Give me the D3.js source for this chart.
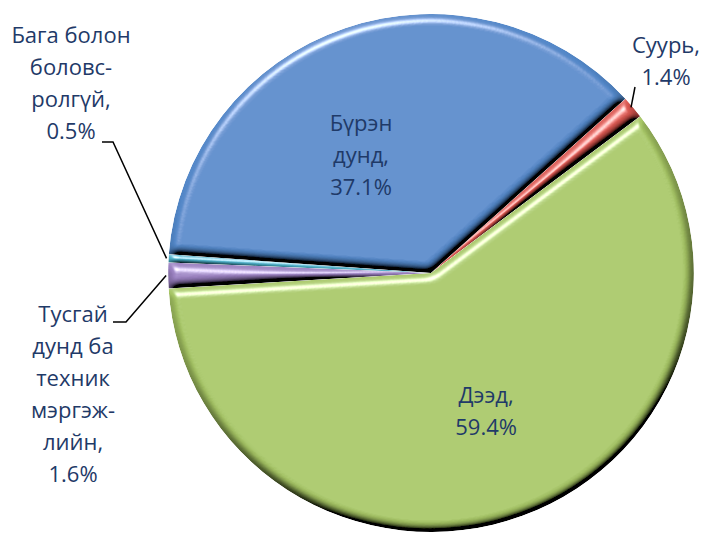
<!DOCTYPE html>
<html>
<head>
<meta charset="utf-8">
<script src="https://cdn.jsdelivr.net/npm/d3@7"></script>
<style>
  html, body { margin: 0; padding: 0; background: #fff; }
  text { font-family: "Open Sans", sans-serif; }
</style>
</head>
<body>
<div id="chart"></div>
<script>
// Data
const categories = ['Суурь', 'Дээд', 'Тусгай дунд ба техник мэргэжлийн', 'Бага болон боловсролгүй', 'Бүрэн дунд'];
const values = [1.4, 59.4, 1.6, 0.5, 37.1];
const labelLines = [
  ['Суурь,', '1.4%'],
  ['Дээд,', '59.4%'],
  ['Тусгай', 'дунд ба', 'техник', 'мэргэж-', 'лийн,', '1.6%'],
  ['Бага болон', 'боловс-', 'ролгүй,', '0.5%'],
  ['Бүрэн', 'дунд,', '37.1%']
];
const colors = ['#d9564f', '#a6c564', '#9a80c0', '#4bb0c8', '#5287c8'];

const width = 702;
const height = 533;
const cx = 431, cy = 273, radius = 259;
const stretchX = 1.015;
const startDeg = 47.7;
const lineH = 32;

// label layout: inside labels use centroid (plus a nudge), outside ones sit beside the pie
const outside = {
  0: { x: 666, y: 53, anchor: [635, 87] },
  2: { x: 73, y: 322, anchor: [113, 322], elbow: [126, 322] },
  3: { x: 71, y: 43, anchor: [102, 142], elbow: [113, 142] }
};
const nudge = { 1: [3, 0], 4: [-21, 22] };

const svg = d3.select('#chart')
  .append('svg')
  .attr('width', width)
  .attr('height', height);

const defs = svg.append('defs');
const f = defs.append('filter')
  .attr('id', 'bevel')
  .attr('x', '-10%').attr('y', '-10%')
  .attr('width', '120%').attr('height', '120%');
f.append('feGaussianBlur').attr('in', 'SourceAlpha').attr('stdDeviation', 4).attr('result', 'b');
f.append('feDiffuseLighting')
  .attr('in', 'b').attr('surfaceScale', 9).attr('diffuseConstant', 1.3)
  .attr('lighting-color', '#fff').attr('result', 'd')
  .append('feDistantLight').attr('azimuth', 250).attr('elevation', 50);
f.append('feComposite').attr('in', 'SourceGraphic').attr('in2', 'd')
  .attr('operator', 'arithmetic').attr('k1', 1).attr('k2', 0).attr('k3', 0).attr('k4', 0)
  .attr('result', 'lit');
f.append('feSpecularLighting')
  .attr('in', 'b').attr('surfaceScale', 9).attr('specularConstant', 1.0)
  .attr('specularExponent', 20).attr('lighting-color', '#fff').attr('result', 's')
  .append('feDistantLight').attr('azimuth', 250).attr('elevation', 30);
f.append('feComposite').attr('in', 's').attr('in2', 'SourceAlpha')
  .attr('operator', 'in').attr('result', 's2');
f.append('feComposite').attr('in', 'lit').attr('in2', 's2')
  .attr('operator', 'arithmetic').attr('k1', 0).attr('k2', 1).attr('k3', 0.8).attr('k4', 0)
  .attr('result', 'sum');
f.append('feComposite').attr('in', 'sum').attr('in2', 'SourceAlpha').attr('operator', 'in');

const pie = d3.pie()
  .sort(null)
  .value(d => d)
  .startAngle(startDeg * Math.PI / 180)
  .endAngle(startDeg * Math.PI / 180 + 2 * Math.PI);

const arcs = pie(values);

const arc = d3.arc().innerRadius(0).outerRadius(radius);
const edgeArc = d3.arc().innerRadius(radius).outerRadius(radius);
const labelArc = d3.arc().innerRadius(radius * 0.57).outerRadius(radius * 0.57);

const g = svg.append('g').attr('transform', `translate(${cx},${cy}) scale(${stretchX},1)`);

g.selectAll('path.slice')
  .data(arcs)
  .enter()
  .append('path')
  .attr('class', 'slice')
  .attr('d', arc)
  .attr('fill', (d, i) => colors[i])
  .attr('filter', 'url(#bevel)');

// leader lines
arcs.forEach((d, i) => {
  const o = outside[i];
  if (!o) return;
  const end = edgeArc.centroid(d);
  const pts = [o.anchor];
  if (o.elbow) pts.push(o.elbow);
  pts.push([end[0] * stretchX + cx - 2, end[1] + cy]);
  svg.append('path')
    .attr('d', d3.line()(pts))
    .attr('fill', 'none')
    .attr('stroke', '#000')
    .attr('stroke-width', 1.5);
});

// labels
arcs.forEach((d, i) => {
  const lines = labelLines[i];
  let x, y0;
  if (outside[i]) {
    x = outside[i].x;
    y0 = outside[i].y;
  } else {
    const c = labelArc.centroid(d);
    const n = nudge[i] || [0, 0];
    x = cx + c[0] * stretchX + n[0];
    // center the block vertically on the centroid
    y0 = cy + c[1] + n[1] - (lines.length - 1) * lineH / 2 + 8;
  }
  const t = svg.append('text')
    .attr('text-anchor', 'middle')
    .attr('font-size', '22px')
    .attr('fill', '#1f3a68');
  lines.forEach((s, k) => {
    t.append('tspan')
      .attr('x', x)
      .attr('y', y0 + k * lineH)
      .text(s);
  });
});
</script>
</body>
</html>
